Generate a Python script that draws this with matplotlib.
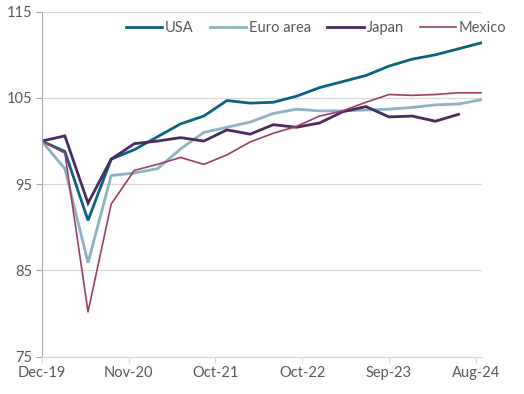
import numpy as np
import matplotlib.pyplot as plt

plt.rcParams['font.family'] = ['Lato', 'DejaVu Sans']

# quarterly index values (Dec-19 = 100)
usa = [100, 98.8, 90.8, 97.9, 99.0, 100.5, 102.0, 102.9, 104.7, 104.4,
       104.5, 105.2, 106.2, 106.9, 107.6, 108.7, 109.5, 110.0, 110.7, 111.4]
euro = [100, 96.8, 85.9, 96.0, 96.3, 96.8, 99.1, 101.0, 101.6, 102.2,
        103.2, 103.7, 103.5, 103.5, 103.6, 103.7, 103.9, 104.2, 104.3, 104.8]
japan = [100, 100.6, 92.8, 97.9, 99.7, 100.0, 100.4, 100.0, 101.3, 100.8,
         101.9, 101.6, 102.1, 103.4, 104.0, 102.8, 102.9, 102.3, 103.1]
mexico = [100, 98.6, 80.2, 92.7, 96.6, 97.3, 98.1, 97.3, 98.4, 99.9,
          100.9, 101.7, 102.9, 103.5, 104.5, 105.4, 105.3, 105.4, 105.6, 105.6]
tick_labels = ['Dec-19', 'Nov-20', 'Oct-21', 'Oct-22', 'Sep-23', 'Aug-24']

fig = plt.figure(figsize=(5.24, 3.94), dpi=100)
ax = fig.add_axes([0.0796, 0.0947, 0.8397, 0.8756])

gray = '#595959'
ax.plot(np.arange(len(usa)), usa, color='#0B6382', lw=2.0, label='USA',
        solid_joinstyle='miter')
ax.plot(np.arange(len(euro)), euro, color='#8DB3C3', lw=2.0, label='Euro area',
        solid_joinstyle='miter')
ax.plot(np.arange(len(japan)), japan, color='#4A2B5E', lw=2.0, label='Japan',
        solid_joinstyle='miter')
ax.plot(np.arange(len(mexico)), mexico, color='#9A3D6A', lw=1.2, label='Mexico')

ax.set_xlim(0, 19)
ax.set_ylim(75, 115)
ax.set_yticks([75, 85, 95, 105, 115])
ax.set_xticks(np.arange(len(tick_labels)) * 3.75)
ax.set_xticklabels(tick_labels)

ax.grid(axis='y', color='#D9D9D9', lw=0.9)
ax.set_axisbelow(True)
for s in ['top', 'right']:
    ax.spines[s].set_visible(False)
ax.spines['left'].set_color('#A6A6A6')
ax.spines['bottom'].set_color('#D9D9D9')
ax.tick_params(axis='y', colors='#A6A6A6', labelcolor=gray, labelsize=10.5,
               length=4, width=0.8, pad=3)
ax.tick_params(axis='x', colors='#D9D9D9', labelcolor=gray, labelsize=10.5,
               length=4, width=0.8, pad=3)

leg = ax.legend(loc='upper right', ncol=4, frameon=False, fontsize=10.5,
                handlelength=2.5, columnspacing=1.1, handletextpad=0.2,
                bbox_to_anchor=(1.07, 0.99), borderaxespad=0)
for t in leg.get_texts():
    t.set_color(gray)

fig.savefig('out.png', dpi=100)
